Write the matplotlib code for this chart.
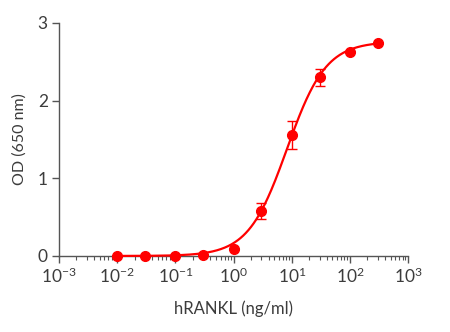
import matplotlib
matplotlib.use("Agg")
import matplotlib.pyplot as plt
from matplotlib.ticker import LogLocator, NullFormatter
import numpy as np

plt.rcParams['font.family'] = ['Lato', 'DejaVu Sans']
plt.rcParams['mathtext.fontset'] = 'custom'
plt.rcParams['mathtext.rm'] = 'Lato'
plt.rcParams['mathtext.it'] = 'Lato:italic'
plt.rcParams['mathtext.default'] = 'regular'

# hRANKL dose response
conc = [0.01, 0.03, 0.1, 0.3, 1, 3, 10, 30, 100, 300]
od = [0.0, 0.0, 0.0, 0.01, 0.09, 0.58, 1.56, 2.30, 2.62, 2.74]
od_err = [0.0, 0.0, 0.0, 0.0, 0.0, 0.10, 0.18, 0.11, 0.0, 0.0]

# 4-parameter logistic fit parameters
bottom, top, ec50, hill = 0.0, 2.76, 8.3, 1.3

x_ticks = [1e-3, 1e-2, 1e-1, 1e0, 1e1, 1e2, 1e3]
x_labels = ['10$^{-3}$', '10$^{-2}$', '10$^{-1}$', '10$^{0}$',
            '10$^{1}$', '10$^{2}$', '10$^{3}$']
y_ticks = [0, 1, 2, 3]


def four_pl(x, b, t, c, h):
    return b + (t - b) / (1 + (c / x)**h)


red = '#ff0000'
axis_col = '#555555'
text_col = '#3c3c3c'

fig = plt.figure(figsize=(4.5, 3.32), dpi=100)
ax = fig.add_axes([0.131, 0.229, 0.776, 0.702])

x_fit = np.logspace(np.log10(conc[0]), np.log10(conc[-1]), 400)
ax.plot(x_fit, four_pl(x_fit, bottom, top, ec50, hill), color=red, lw=1.6,
        clip_on=False, zorder=3)
ax.errorbar(conc, od, yerr=od_err, fmt='o', color=red, ms=7, ecolor=red,
            elinewidth=1, capsize=3.5, capthick=1, clip_on=False, zorder=4)

ax.set_xscale('log')
ax.set_xlim(1e-3, 1e3)
ax.set_ylim(0, 3)
ax.set_xticks(x_ticks)
ax.set_xticklabels(x_labels)
ax.xaxis.set_minor_locator(LogLocator(base=10, subs=np.arange(2, 10), numticks=20))
ax.xaxis.set_minor_formatter(NullFormatter())
ax.set_yticks(y_ticks)
ax.set_yticklabels([str(v) for v in y_ticks])

for side in ['top', 'right']:
    ax.spines[side].set_visible(False)
for side in ['left', 'bottom']:
    ax.spines[side].set_color(axis_col)
    ax.spines[side].set_linewidth(1)

ax.tick_params(axis='both', which='major', direction='out', length=5,
               width=1, color=axis_col, labelsize=12.5, labelcolor=text_col, pad=3)
ax.tick_params(axis='x', which='minor', direction='out', length=3,
               width=0.8, color=axis_col)

ax.set_xlabel('hRANKL (ng/ml)', fontsize=12, color=text_col, labelpad=10)
ax.set_ylabel('OD (650 nm)', fontsize=11.5, color=text_col)
ax.yaxis.set_label_coords(-0.092, 0.5)

fig.savefig('out.png', dpi=100)
